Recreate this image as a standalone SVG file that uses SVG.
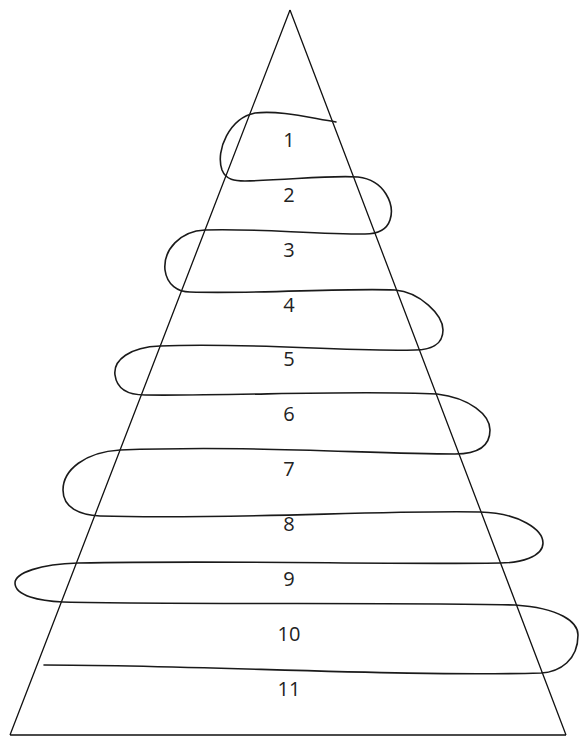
<svg xmlns="http://www.w3.org/2000/svg" width="580" height="736" viewBox="0 0 580 736">
  <style>
    .tri { fill: none; stroke: #111; stroke-width: 1.3; }
    .curve { fill: none; stroke: #1a1a1a; stroke-width: 1.6; stroke-linecap: round; }
    .lbl { font-family: "Open Sans", "DejaVu Sans", sans-serif; font-size: 20px; fill: #222; text-anchor: middle; }
  </style>
  <rect width="580" height="736" fill="#ffffff"/>
  <g id="triangle">
    <path class="tri" d="M 290 10 L 10 735 M 290 10 L 566 735 M 10 735 L 566 735"/>
  </g>
  <g id="connectors">
    <path class="curve" d="M 336 122
      C 310 118, 280 110, 255 113
      C 230 118, 215 150, 222 170
      C 226 180, 235 181, 245 181
      C 290 180, 330 175, 358 177
      C 385 180, 395 205, 390 220
      C 386 232, 375 234, 365 234
      C 310 234, 250 228, 205 230
      C 180 231, 163 250, 165 270
      C 167 285, 178 292, 190 292
      C 260 294, 340 288, 395 290
      C 420 292, 443 315, 443 330
      C 443 345, 430 350, 415 350
      C 340 352, 250 342, 160 346
      C 130 347, 113 360, 115 375
      C 117 390, 130 395, 145 395
      C 240 396, 350 390, 437 394
      C 470 398, 490 415, 490 430
      C 490 448, 475 454, 455 454
      C 370 454, 250 445, 120 450
      C 85 452, 63 470, 63 490
      C 63 508, 80 515, 100 516
      C 230 520, 380 510, 480 512
      C 520 513, 543 530, 543 543
      C 543 557, 520 563, 500 563
      C 380 565, 250 560, 78 563
      C 40 564, 15 573, 15 583
      C 15 596, 40 601, 63 602
      C 200 605, 400 602, 515 605
      C 560 608, 578 622, 578 635
      C 578 660, 560 672, 541 673
      C 400 677, 200 665, 44 665"/>
  </g>
  <g id="n1"><text class="lbl" x="289" y="147">1</text></g>
  <g id="n2"><text class="lbl" x="289" y="202">2</text></g>
  <g id="n3"><text class="lbl" x="289" y="257">3</text></g>
  <g id="n4"><text class="lbl" x="289" y="312">4</text></g>
  <g id="n5"><text class="lbl" x="289" y="366">5</text></g>
  <g id="n6"><text class="lbl" x="289" y="421">6</text></g>
  <g id="n7"><text class="lbl" x="289" y="476">7</text></g>
  <g id="n8"><text class="lbl" x="289" y="531">8</text></g>
  <g id="n9"><text class="lbl" x="289" y="586">9</text></g>
  <g id="n10"><text class="lbl" x="289" y="641">10</text></g>
  <g id="n11"><text class="lbl" x="289" y="696">11</text></g>
</svg>
